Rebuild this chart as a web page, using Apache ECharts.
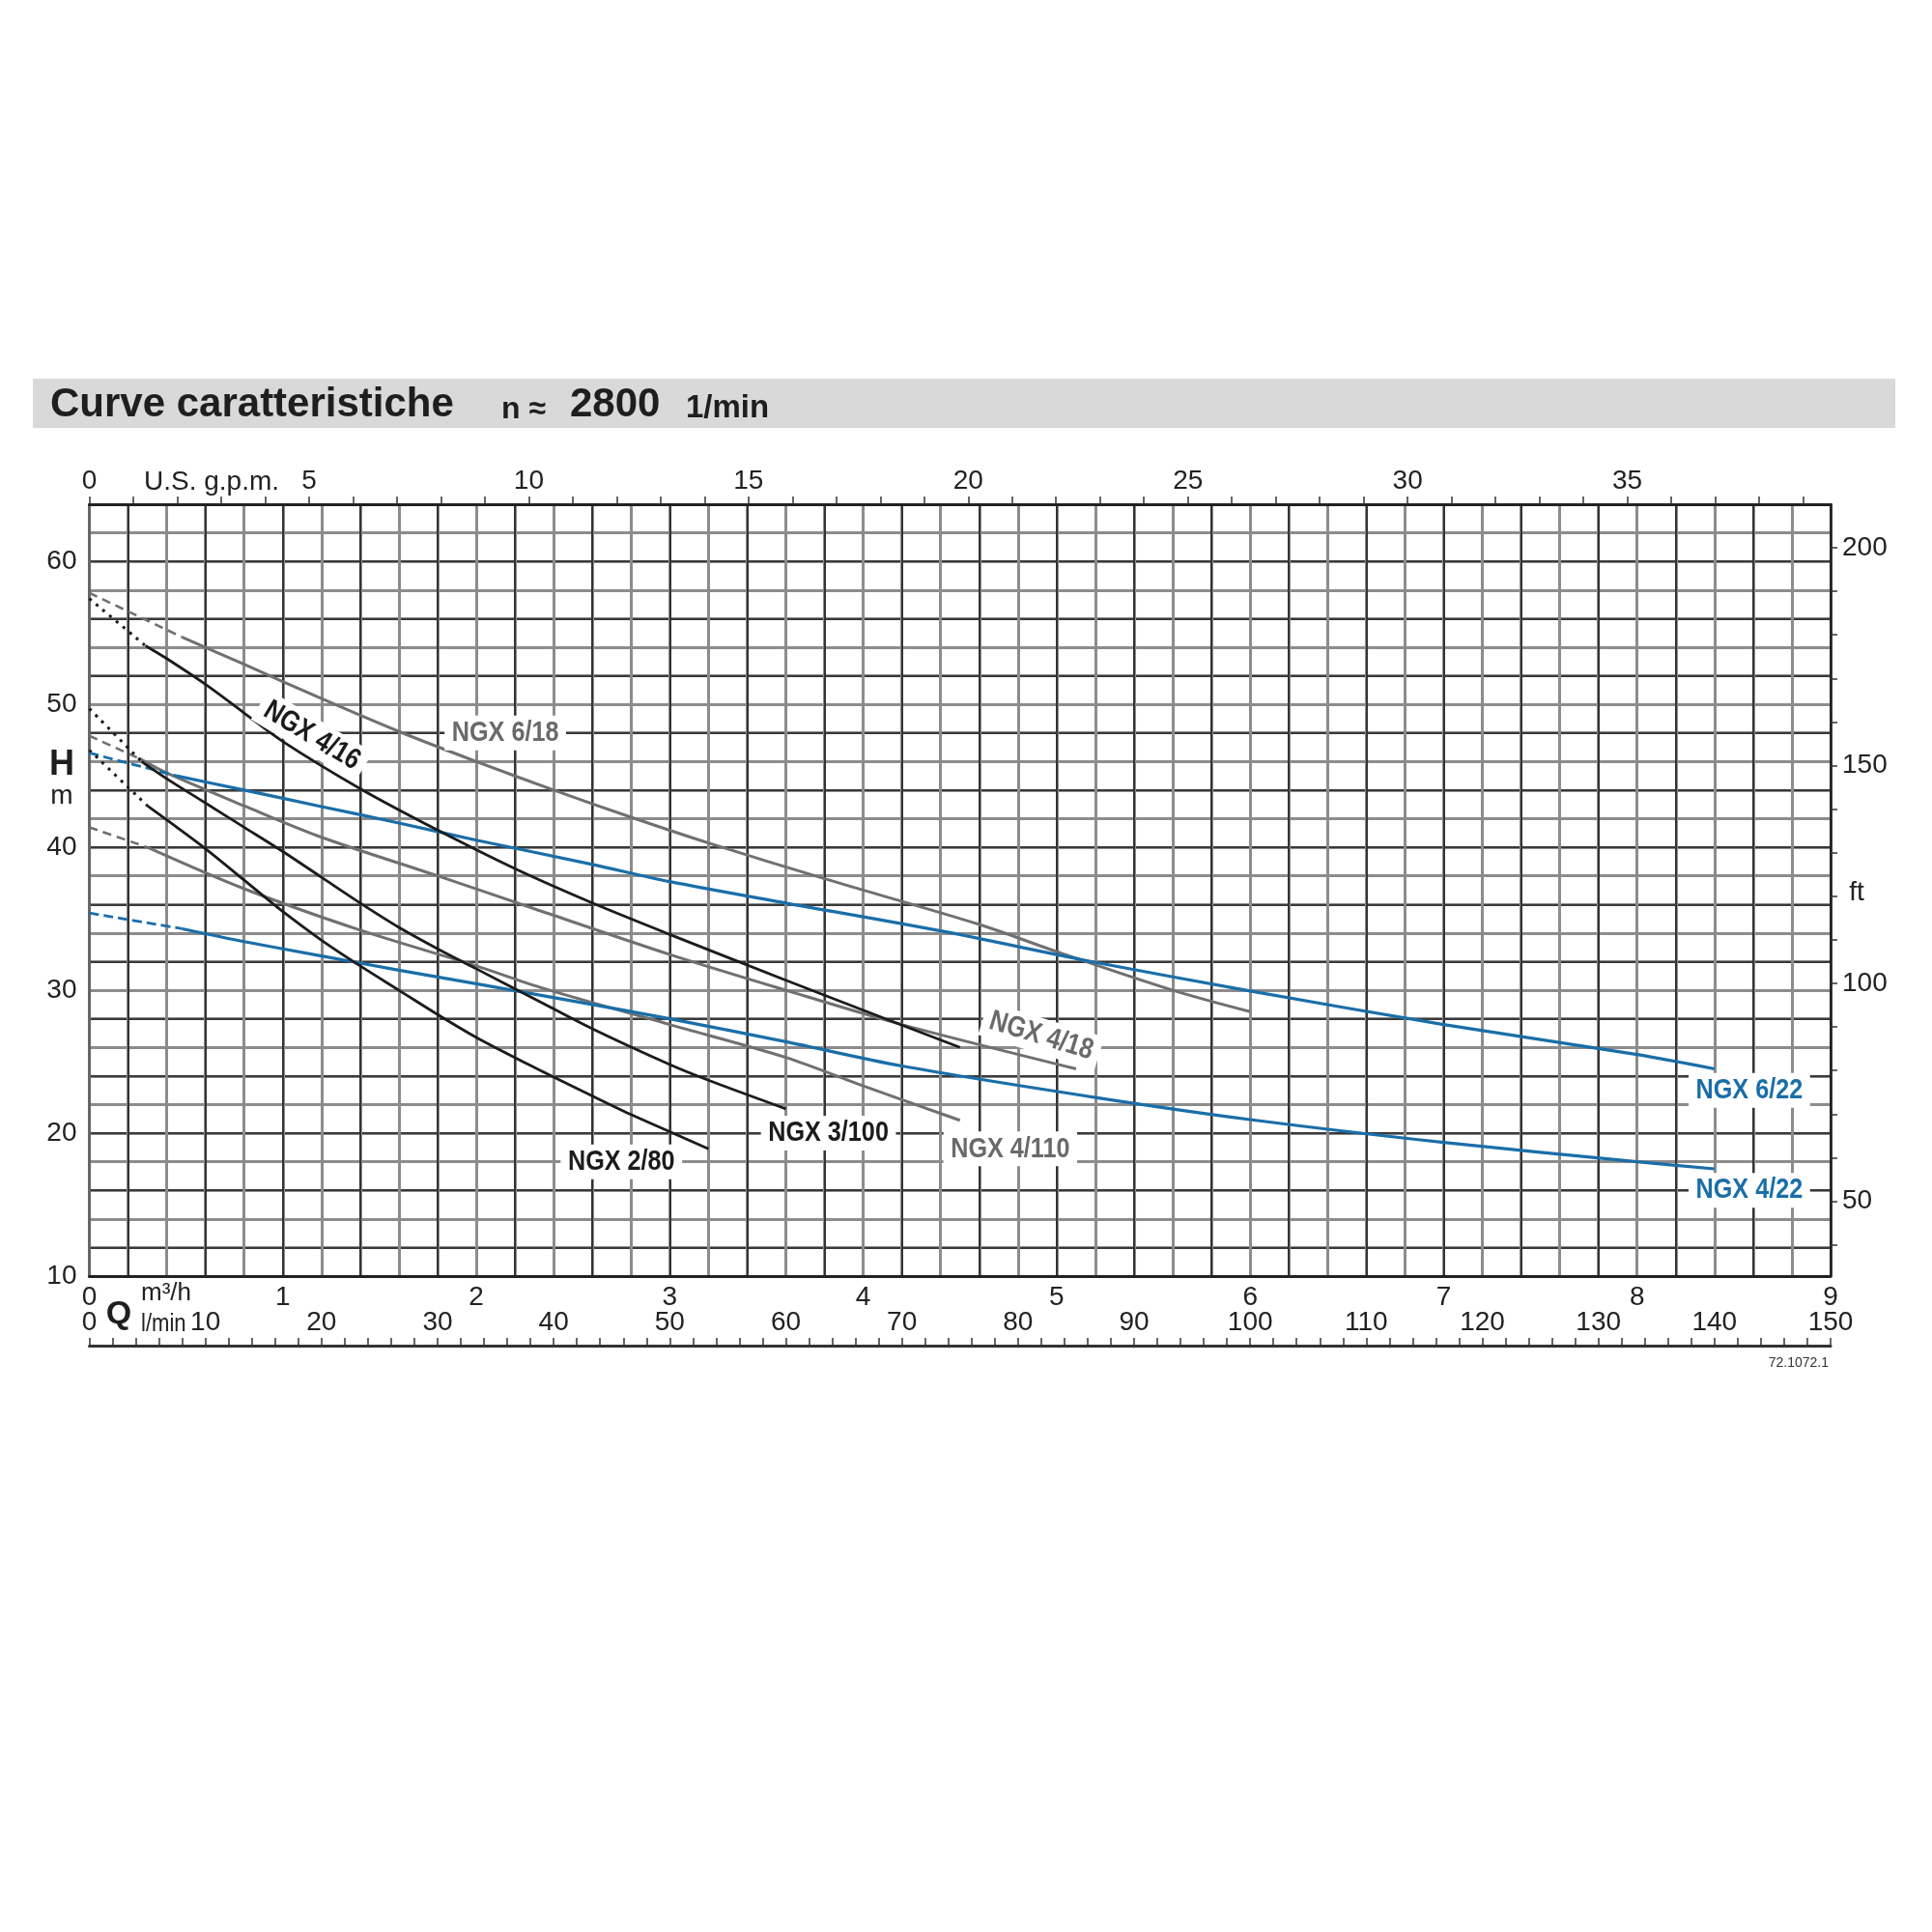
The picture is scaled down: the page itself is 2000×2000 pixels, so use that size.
<!DOCTYPE html>
<html><head><meta charset="utf-8">
<script src="https://cdn.jsdelivr.net/npm/echarts@6/dist/echarts.min.js"></script>
<style>html,body{margin:0;padding:0;background:#fff}#c{width:2000px;height:2000px}</style>
</head><body><div id="c"></div>
<script>
const FONT = "'Liberation Sans',Arial,sans-serif";
// ---- axis ticks / labels ----
const m3hLabels = [0,1,2,3,4,5,6,7,8,9];
const lminLabels = [0,10,20,30,40,50,60,70,80,90,100,110,120,130,140,150];
const lminTicks = Array.from({length:76},(_, i)=>i*2);
const gpmLabels = [0,5,10,15,20,25,30,35];
const gpmTicks = Array.from({length:40},(_, i)=>i);
const hLabels = [10,20,30,40,50,60];
const ftLabels = [50,100,150,200];
const ftTicks = [40,50,60,70,80,90,100,110,120,130,140,150,160,170,180,190,200];
// ---- curves: [Q m3/h, H m] ----
const ngx618Dash = [[0,57.8],[0.48,54.7]];
const ngx618 = [[0.48,54.7],[0.8,52.8],[1.2,50.4],[1.6,48.1],[2.0,46.0],[2.4,44.0],[2.8,42.1],[3.2,40.3],[3.8,37.8],[4.6,34.6],[5.0,32.7],[5.6,30.0],[6.0,28.5]];
const ngx416Dash = [[0,57.4],[0.29,54.1]];
const ngx416 = [[0.29,54.1],[0.4,53.2],[0.6,51.4],[0.8,49.4],[1.0,47.4],[1.4,44.1],[1.8,41.2],[2.2,38.5],[2.6,36.1],[3.0,33.9],[3.6,30.7],[4.0,28.6],[4.5,26.0]];
const ngx622Dash = [[0,46.6],[0.45,45.0]];
const ngx622 = [[0.45,45.0],[0.8,44.0],[1.2,42.85],[1.6,41.7],[2.0,40.5],[2.6,38.8],[3.0,37.6],[3.6,36.1],[4.4,34.15],[5.2,31.95],[6.0,29.95],[7.0,27.6],[8.0,25.5],[8.4,24.5]];
const ngx422Dash = [[0,35.4],[0.48,34.3]];
const ngx422 = [[0.48,34.3],[0.8,33.4],[1.2,32.4],[1.6,31.4],[2.0,30.45],[2.6,29.0],[3.0,28.0],[3.6,26.4],[4.2,24.7],[5.2,22.5],[6.0,20.95],[7.0,19.35],[8.0,18.0],[8.4,17.5]];
const ngx418Dash = [[0,47.8],[0.26,46.2]];
const ngx418 = [[0.26,46.2],[0.4,45.2],[0.8,42.9],[1.2,40.7],[1.8,38.0],[2.3,35.7],[3.0,32.5],[3.6,30.0],[4.2,27.6],[5.1,24.5]];
const ngx4110Dash = [[0,41.4],[0.3,40.0]];
const ngx4110 = [[0.3,40.0],[0.8,37.1],[1.4,34.2],[2.0,31.7],[2.33,30.2],[3.0,27.6],[3.6,25.3],[4.0,23.3],[4.5,20.9]];
const ngx3100Dash = [[0,49.7],[0.27,46.0]];
const ngx3100 = [[0.27,46.0],[0.4,44.8],[0.6,43.1],[0.8,41.4],[1.0,39.7],[1.2,37.9],[1.4,36.1],[1.6,34.4],[1.8,32.9],[2.0,31.5],[2.3,29.4],[2.6,27.3],[3.0,24.8],[3.2,23.7],[3.6,21.7]];
const ngx280Dash = [[0,46.8],[0.3,42.9]];
const ngx280 = [[0.3,42.9],[0.6,39.9],[0.8,37.7],[1.0,35.5],[1.2,33.5],[1.4,31.7],[1.6,30.0],[1.8,28.3],[2.0,26.7],[2.3,24.6],[2.6,22.6],[2.8,21.3],[3.0,20.1],[3.2,18.9]];
// ---- curve labels (anchor in data coords) ----
const labelNames = ['NGX 6/18','NGX 4/16','NGX 4/18','NGX 4/110','NGX 3/100','NGX 2/80','NGX 6/22','NGX 4/22'];
const labelQ = [2.15,1.15,4.92,4.76,3.82,2.75,8.58,8.58];
const labelH = [48,47.8,26.8,18.9,20,18,23,16];

const BLACK='#1b1b1b', GRAY='#707070', BLUE='#1a6ea8';
const labelStyle = [
  {c:'#6a6a6a',r:0},{c:BLACK,r:-31},{c:'#6a6a6a',r:-17},{c:'#6a6a6a',r:0},{c:BLACK,r:0},{c:BLACK,r:0},{c:BLUE,r:0},{c:BLUE,r:0}
];

const chart = echarts.init(document.getElementById('c'), null, {renderer:'canvas'});
const GL=92.5, GT=522, GW=1802.5, GH=799;
const hidden = {axisLine:{show:false},axisTick:{show:false},axisLabel:{show:false}};
const xGridBase = {type:'value',min:0,max:9,interval:0.2,position:'bottom',...hidden};
const yGridBase = {type:'value',min:10,max:64,interval:2,position:'left',...hidden};

function line(data,color,width,dash,z){
  return {type:'line',xAxisIndex:0,yAxisIndex:0,data,showSymbol:false,symbol:'none',smooth:0.3,
    lineStyle:{color,width,type:dash||'solid',cap:'butt'},z:z||5,animation:false,silent:true};
}
const series = [
  line(ngx618Dash,GRAY,2.6,[9,6]), line(ngx618,GRAY,3),
  line(ngx4110Dash,GRAY,2.6,[9,6]), line(ngx4110,GRAY,3),
  line(ngx418Dash,GRAY,2.6,[9,6]), line(ngx418,GRAY,3),
  line(ngx622Dash,BLUE,2.8,[10,5]), line(ngx622,BLUE,3.2),
  line(ngx422Dash,BLUE,2.8,[10,5]), line(ngx422,BLUE,3.2),
  line(ngx416Dash,BLACK,3,[3,6]), line(ngx416,BLACK,2.8),
  line(ngx3100Dash,BLACK,3,[3,6]), line(ngx3100,BLACK,2.8),
  line(ngx280Dash,BLACK,3,[3,6]), line(ngx280,BLACK,2.8),
];

const axLabelFont = {fontFamily:FONT,fontSize:28,color:'#222'};
const staticGraphics = [
    {type:'rect',shape:{x:34,y:392,width:1928,height:51},style:{fill:'#d9d9d9'},z:1},
    {type:'text',x:52,y:419,style:{text:'Curve caratteristiche',font:"bold 42px "+FONT,fill:'#1e1e1e',textVerticalAlign:'middle'},z:2},
    {type:'text',x:519,y:424,style:{text:'n ≈',font:"bold 32px "+FONT,fill:'#1e1e1e',textVerticalAlign:'middle'},z:2},
    {type:'text',x:590,y:419,style:{text:'2800',font:"bold 42px "+FONT,fill:'#1e1e1e',textVerticalAlign:'middle'},z:2},
    {type:'text',x:710,y:423,style:{text:'1/min',font:"bold 33px "+FONT,fill:'#1e1e1e',textVerticalAlign:'middle'},z:2},
    {type:'text',x:149,y:499,style:{text:'U.S. g.p.m.',font:"28px "+FONT,fill:'#222',textVerticalAlign:'middle'}},
    {type:'text',x:64,y:792,style:{text:'H',font:"bold 36px "+FONT,fill:'#1e1e1e',textAlign:'center',textVerticalAlign:'middle'}},
    {type:'text',x:64,y:824,style:{text:'m',font:"28px "+FONT,fill:'#222',textAlign:'center',textVerticalAlign:'middle'}},
    {type:'text',x:123,y:1361,style:{text:'Q',font:"bold 34px "+FONT,fill:'#1e1e1e',textAlign:'center',textVerticalAlign:'middle'}},
    {type:'text',x:146,y:1339,style:{text:'m³/h',font:"26px "+FONT,fill:'#222',textVerticalAlign:'middle'}},
    {type:'text',x:146,y:1371,scaleX:0.85,style:{text:'l/min',font:"26px "+FONT,fill:'#222',textVerticalAlign:'middle'}},
    {type:'text',x:1922,y:924,style:{text:'ft',font:"28px "+FONT,fill:'#222',textAlign:'center',textVerticalAlign:'middle'}},
    {type:'text',x:1893,y:1411,style:{text:'72.1072.1',font:"14px "+FONT,fill:'#333',textAlign:'right',textVerticalAlign:'middle'}}
];
const option = {
  animation:false,
  backgroundColor:'#fff',
  grid:{left:GL,top:GT,width:GW,height:GH,show:false},
  xAxis:[
    {type:'value',min:0,max:9,interval:1,position:'bottom',
      axisLine:{show:true,onZero:false,lineStyle:{color:'#222',width:3}},axisTick:{show:false},
      splitLine:{show:false},axisLabel:{...axLabelFont,margin:8,customValues:m3hLabels}},
    {type:'value',min:0,max:150,position:'bottom',offset:72,
      axisLine:{show:true,onZero:false,lineStyle:{color:'#333',width:3}},
      axisTick:{show:true,inside:true,length:8,lineStyle:{color:'#333',width:1.5},customValues:lminTicks},
      splitLine:{show:false},axisLabel:{...axLabelFont,inside:true,margin:10,customValues:lminLabels}},
    {type:'value',min:0,max:150/3.78541,position:'top',
      axisLine:{show:true,onZero:false,lineStyle:{color:'#222',width:3}},
      axisTick:{show:true,inside:false,length:8,lineStyle:{color:'#333',width:1.5},customValues:gpmTicks},
      splitLine:{show:false},axisLabel:{...axLabelFont,margin:10,customValues:gpmLabels}},
    {...xGridBase,splitLine:{show:true,lineStyle:{color:'#8c8c8c',width:3}}},
    {...xGridBase,splitLine:{show:true,lineStyle:{color:['rgba(0,0,0,0)','#1e1e1e'],width:1.6}}}
  ],
  yAxis:[
    {type:'value',min:10,max:64,position:'left',
      axisLine:{show:true,onZero:false,lineStyle:{color:'#666',width:3}},axisTick:{show:false},
      splitLine:{show:false},axisLabel:{...axLabelFont,margin:13,customValues:hLabels}},
    {type:'value',min:10*3.28084,max:64*3.28084,position:'right',
      axisLine:{show:true,onZero:false,lineStyle:{color:'#222',width:2.5}},
      axisTick:{show:true,inside:false,length:7,lineStyle:{color:'#333',width:1.5},customValues:ftTicks},
      splitLine:{show:false},axisLabel:{...axLabelFont,margin:12,customValues:ftLabels}},
    {...yGridBase,splitLine:{show:true,lineStyle:{color:'#8c8c8c',width:3}}},
    {...yGridBase,splitLine:{show:true,lineStyle:{color:['rgba(0,0,0,0)','#1e1e1e'],width:1.6}}}
  ],
  series,
  graphic: staticGraphics
};
chart.setOption(option);
const labelGraphics = labelNames.map((n,i)=>{
  const st = labelStyle[i];
  const p = chart.convertToPixel({seriesIndex:1},[labelQ[i],labelH[i]]);
  return {type:'text',x:p[0],y:p[1],rotation:st.r*Math.PI/180,scaleX:0.84,z:20,
    style:{text:n,font:'bold 30px '+FONT,fill:st.c,textAlign:'center',textVerticalAlign:'middle',
      backgroundColor:'#fff',padding:[3,9,3,9]}};
});
chart.setOption({graphic: staticGraphics.concat(labelGraphics)}, {replaceMerge:['graphic']});
</script></body></html>
